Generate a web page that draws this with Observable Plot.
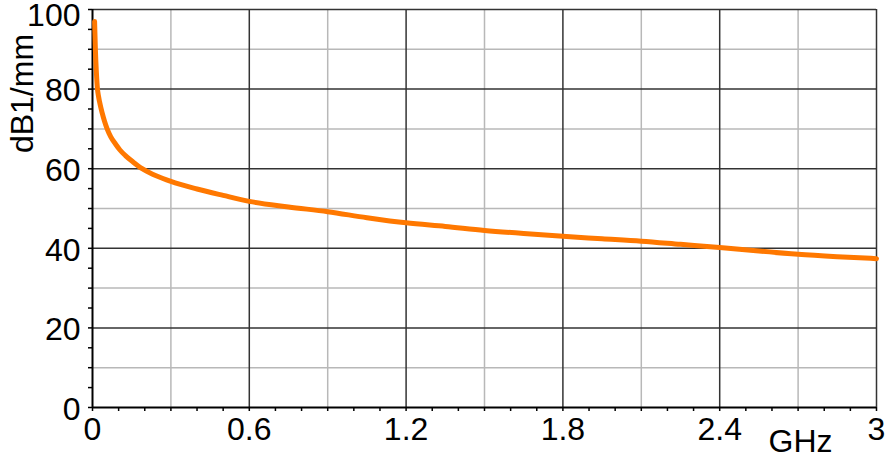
<!DOCTYPE html>
<html>
<head>
<meta charset="utf-8">
<script src="https://cdn.jsdelivr.net/npm/d3@7"></script>
<script src="https://cdn.jsdelivr.net/npm/@observablehq/plot@0.6"></script>
<style>
  html, body { margin: 0; padding: 0; background: #fff; }
  svg { display: block; }
</style>
</head>
<body>
<div id="chart"></div>
<script>
// Frequency (GHz)
const freq = [0.008, 0.011, 0.015, 0.019, 0.023, 0.027, 0.037, 0.046, 0.056, 0.07, 0.088, 0.105, 0.126, 0.155, 0.19, 0.23, 0.267, 0.3, 0.4, 0.5, 0.6, 0.75, 0.9, 1.05, 1.2, 1.35, 1.5, 1.65, 1.8, 1.95, 2.1, 2.25, 2.4, 2.55, 2.7, 2.85, 3.0];
// Attenuation (dB1/mm)
const atten = [97, 90, 84, 80, 78.2, 76.8, 74.0, 71.9, 70, 68, 66.2, 64.7, 63.3, 61.7, 60, 58.6, 57.6, 56.8, 54.9, 53.3, 51.8, 50.4, 49.2, 47.7, 46.4, 45.5, 44.5, 43.7, 43.0, 42.4, 41.8, 41.0, 40.2, 39.3, 38.5, 37.9, 37.4];

const xLabelTicks = [0, 0.6, 1.2, 1.8, 2.4, 3];
const xMajorGrid = [0.6, 1.2, 1.8, 2.4];
const xMinorGrid = [0.3, 0.9, 1.5, 2.1, 2.7];
const xSmallTicks = d3.range(0, 31).map(i => i / 10);
const yLabelTicks = [0, 20, 40, 60, 80];
const yTopLabel = [100];
const yMajorGrid = [20, 40, 60, 80];
const yMinorGrid = [10, 30, 50, 70, 90];
const ySmallTicks = d3.range(0, 21).map(i => i * 5);
const xUnit = "GHz";
const yUnit = "dB1/mm";

const data = freq.map((f, i) => ({f, a: atten[i]}));

const font = "'Liberation Sans', Arial, sans-serif";
const fs = 32;

const plot = Plot.plot({
  width: 886,
  height: 461,
  marginLeft: 92,
  marginRight: 10,
  marginTop: 9,
  marginBottom: 54,
  style: {fontFamily: font, fontSize: fs + "px", color: "#000", background: "#fff", overflow: "visible"},
  x: {domain: [0, 3], axis: null},
  y: {domain: [0, 100], axis: null},
  marks: [
    Plot.gridX(xMinorGrid, {stroke: "#b8b8b8", strokeOpacity: 1, strokeWidth: 1.5}),
    Plot.gridY(yMinorGrid, {stroke: "#b8b8b8", strokeOpacity: 1, strokeWidth: 1.5}),
    Plot.gridX(xMajorGrid, {stroke: "#333", strokeOpacity: 1, strokeWidth: 1.5}),
    Plot.gridY(yMajorGrid, {stroke: "#333", strokeOpacity: 1, strokeWidth: 1.5}),
    Plot.ruleY([100], {stroke: "#333", strokeWidth: 1.5}),
    Plot.ruleX([3], {stroke: "#333", strokeWidth: 1.5}),
    Plot.axisX(xSmallTicks, {tickSize: 4, text: null, stroke: "#000", strokeWidth: 1.5, label: null}),
    Plot.axisY(ySmallTicks, {tickSize: 4, text: null, stroke: "#000", strokeWidth: 1.5, label: null}),
    Plot.text(xLabelTicks, {x: d => d, frameAnchor: "bottom", dy: 22.5, lineAnchor: "middle", fontSize: fs, text: d => String(d), fill: "#000"}),
    Plot.text(yLabelTicks, {y: d => d, frameAnchor: "left", dx: -12, dy: 2, textAnchor: "end", lineAnchor: "middle", fontSize: fs, text: d => String(d), fill: "#000"}),
    Plot.text(yTopLabel, {y: d => d, frameAnchor: "left", dx: -12, dy: 6, textAnchor: "end", lineAnchor: "middle", fontSize: fs, text: d => String(d), fill: "#000"}),
    Plot.ruleX([0], {stroke: "#000", strokeWidth: 2}),
    Plot.ruleY([0], {stroke: "#000", strokeWidth: 2}),
    Plot.line(data, {x: "f", y: "a", stroke: "#ff7800", strokeWidth: 5, curve: "monotone-x"}),
    Plot.text([xUnit], {frameAnchor: "bottom-right", dx: -44, dy: 34, fontSize: fs, textAnchor: "end", lineAnchor: "middle", fill: "#000"}),
    Plot.text([yUnit], {frameAnchor: "top-left", dx: -70, dy: 84, fontSize: fs, rotate: -90, lineAnchor: "middle", textAnchor: "middle", fill: "#000"})
  ]
});
document.getElementById("chart").appendChild(plot);
</script>
</body>
</html>
